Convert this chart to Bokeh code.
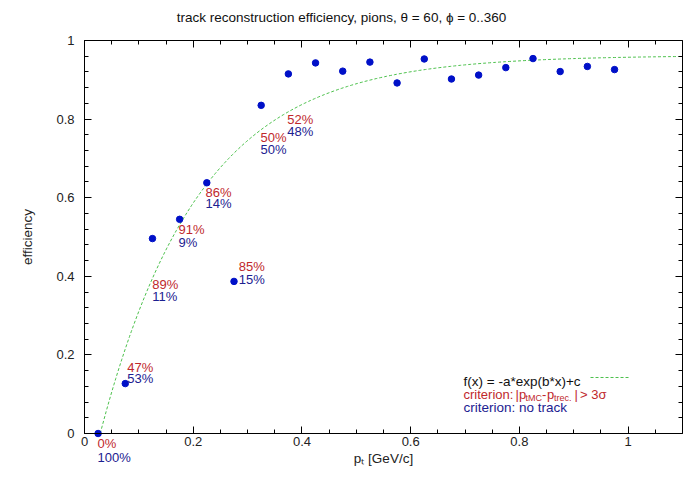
import numpy as np
from bokeh.plotting import figure
from bokeh.models import (Range1d, LinearAxis, SingleIntervalTicker, NumeralTickFormatter,
                          Label, LabelSet, ColumnDataSource, Arrow)
from bokeh.core.properties import value
from bokeh.embed import file_html
from bokeh.resources import INLINE

# ---- data ----
pt = [0.025, 0.075, 0.125, 0.175, 0.225, 0.275, 0.325, 0.375, 0.425, 0.475,
      0.525, 0.575, 0.625, 0.675, 0.725, 0.775, 0.825, 0.875, 0.925, 0.975]
eff = [0.0, 0.127, 0.496, 0.545, 0.638, 0.387, 0.835, 0.915, 0.943, 0.922,
       0.945, 0.892, 0.953, 0.902, 0.912, 0.931, 0.954, 0.921, 0.934, 0.926]

# fit f(x) = -a*exp(b*x)+c
fit_a = 1.128
fit_b = -5.5
fit_c = 0.962

# annotation texts and anchors (data units)
lab_x = [0.024, 0.0785, 0.1245, 0.173, 0.2226, 0.2839, 0.3238, 0.3729]
mis_text = ["0%", "47%", "89%", "91%", "86%", "85%", "50%", "52%"]
mis_y = [-0.0254, 0.1687, 0.379, 0.519, 0.6125, 0.4249, 0.7524, 0.7982]
notrack_text = ["100%", "53%", "11%", "9%", "14%", "15%", "50%", "48%"]
notrack_y = [-0.0611, 0.140, 0.3486, 0.486, 0.5845, 0.3919, 0.7226, 0.7692]

title_text = "track reconstruction efficiency, pions, \u03b8 = 60, \u03d5 = 0..360"

FONT = "Liberation Sans"
RED = "#c0282c"
BLUE = "#1c2090"
DOT = "#0010c8"
GREEN = "#4cc04c"

# The frame reaches past the axes box on the left, bottom and top so that the
# texts that sit outside the box (first point's labels, the "0" and "1"
# ticks) are not clipped; the axes are pinned to the box and bounded to it.
X_MAX = 1.1
Y_MAX = 1.0
x_low = -84 / (598 / X_MAX)
y_low = -33 / 393
y_high = Y_MAX + 8 / 393

p = figure(width=700, height=490, output_backend="svg", toolbar_location=None,
           x_range=Range1d(x_low, X_MAX), y_range=Range1d(y_low, y_high),
           min_border_left=0, min_border_right=18, min_border_top=32, min_border_bottom=24,
           title=title_text)
p.grid.visible = False
p.outline_line_color = None
p.background_fill_color = "white"
p.border_fill_color = "white"

p.title.align = "center"
p.title.offset = 27
p.title.text_font = FONT
p.title.text_font_size = "13.5px"
p.title.text_font_style = "normal"
p.title.text_color = "#111111"
p.title.standoff = 15

xb = p.below[0]
yl = p.left[0]
xb.axis_label = "p\u209c [GeV/c]"
yl.axis_label = "efficiency"
xb.fixed_location = 0
yl.fixed_location = 0
xb.bounds = (0, X_MAX)
yl.bounds = (0, Y_MAX)

xt = SingleIntervalTicker(interval=0.2, num_minor_ticks=4)
yt = SingleIntervalTicker(interval=0.2, num_minor_ticks=5)
xb.ticker = xt
yl.ticker = yt
xb.formatter = NumeralTickFormatter(format="0.[0]")
yl.formatter = NumeralTickFormatter(format="0.[0]")

top = LinearAxis(ticker=xt, bounds=(0, X_MAX), fixed_location=Y_MAX)
right = LinearAxis(ticker=yt, bounds=(0, Y_MAX))
p.add_layout(top, "above")
p.add_layout(right, "right")

for ax in [xb, yl, top, right]:
    ax.major_tick_in = 7
    ax.major_tick_out = 0
    ax.minor_tick_in = 4
    ax.minor_tick_out = 0
    ax.axis_line_color = "black"
    ax.major_tick_line_color = "black"
    ax.minor_tick_line_color = "black"
    ax.major_label_text_font = FONT
    ax.major_label_text_font_size = "13px"
    ax.major_label_text_color = "#222222"
    ax.axis_label_text_font = FONT
    ax.axis_label_text_font_size = "13.5px"
    ax.axis_label_text_font_style = "normal"
    ax.axis_label_text_color = "#222222"

for ax in [top, right]:
    ax.major_label_text_font_size = "0px"
    ax.major_label_text_color = None
    ax.major_label_standoff = 0

xb.major_label_standoff = 3
xb.axis_label_standoff = 2
yl.major_label_standoff = 10
yl.axis_label_standoff = 18

# fit curve, drawn where it is non-negative (the y axis starts at 0)
x0 = np.log(fit_c / fit_a) / fit_b
xf = np.linspace(x0, X_MAX, 300)
yf = -fit_a * np.exp(fit_b * xf) + fit_c
p.line(xf, yf, line_color=GREEN, line_dash="3 2", line_width=1)

# points
p.scatter(pt, eff, size=6.5, color=DOT)

# percentage annotations
src_mis = ColumnDataSource(dict(x=lab_x, y=mis_y, t=mis_text))
src_nt = ColumnDataSource(dict(x=lab_x, y=notrack_y, t=notrack_text))
p.add_layout(LabelSet(x="x", y="y", text="t", source=src_mis, text_font=value(FONT),
                      text_font_size=value("13px"), text_color=RED,
                      text_align="left", text_baseline="middle"))
p.add_layout(LabelSet(x="x", y="y", text="t", source=src_nt, text_font=value(FONT),
                      text_font_size=value("13px"), text_color=BLUE,
                      text_align="left", text_baseline="middle"))

# key
def key_text(x, y, t, color, size="13.5px"):
    p.add_layout(Label(x=x, y=y, text=t, text_font=FONT, text_font_size=size,
                       text_color=color, text_align="left", text_baseline="alphabetic"))

key_text(0.6972, 0.1323, "f(x) = -a*exp(b*x)+c", "#111111")
p.add_layout(Arrow(end=None, x_start=0.9308, y_start=0.1425, x_end=1.0007, y_end=0.1425,
                   line_color=GREEN, line_dash="3 2", line_width=1))
key_text(0.6972, 0.0992, "criterion:", RED, "13px")
key_text(0.7928, 0.0992, "|", RED, "13px")
key_text(0.7993, 0.0992, "p", RED, "13px")
key_text(0.8112, 0.0916, "tMC", RED, "9px")
key_text(0.8416, 0.0992, "-", RED, "13px")
key_text(0.8508, 0.0992, "p", RED, "13px")
key_text(0.8637, 0.0916, "trec.", RED, "9px")
key_text(0.9014, 0.0992, "|", RED, "13px")
key_text(0.9115, 0.0992, "> 3\u03c3", RED, "13px")
key_text(0.6972, 0.0662, "criterion: no track", BLUE)

open("out.html", "w").write(file_html(p, INLINE))
